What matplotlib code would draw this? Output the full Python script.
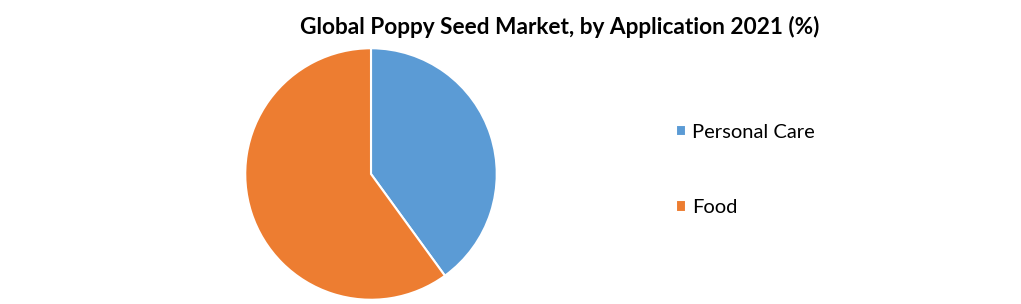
import matplotlib.pyplot as plt

labels = ['Personal Care', 'Food']
shares = [40, 60]
colors = ['#5B9BD5', '#ED7D31']

plt.rcParams['font.family'] = ['Lato', 'DejaVu Sans']

fig = plt.figure(figsize=(10.21, 3.04), dpi=100)

# pie axes: centre ~ (371,174) px, radius ~127 px
r = 127
ax = fig.add_axes([(371 - r) / 1021, (304 - 174 - r) / 304, 2 * r / 1021, 2 * r / 304])
wedges, _ = ax.pie(shares, colors=colors, startangle=90, counterclock=False,
                   wedgeprops=dict(edgecolor='white', linewidth=1.5))
ax.set_xlim(-1.01, 1.01)
ax.set_ylim(-1.01, 1.01)
ax.set_aspect('equal')

fig.text(560 / 1021, 1 - 27 / 304, 'Global Poppy Seed Market, by Application 2021 (%)',
         ha='center', va='center', fontsize=16.3, fontweight='bold')

leg = fig.legend(wedges, labels, loc='center left',
                 bbox_to_anchor=(658 / 1021, 1 - 170 / 304),
                 frameon=False, fontsize=14.5, handlelength=0.5, handleheight=0.5,
                 handletextpad=0.3, labelspacing=2.9)

fig.savefig('out.png', dpi=100)
